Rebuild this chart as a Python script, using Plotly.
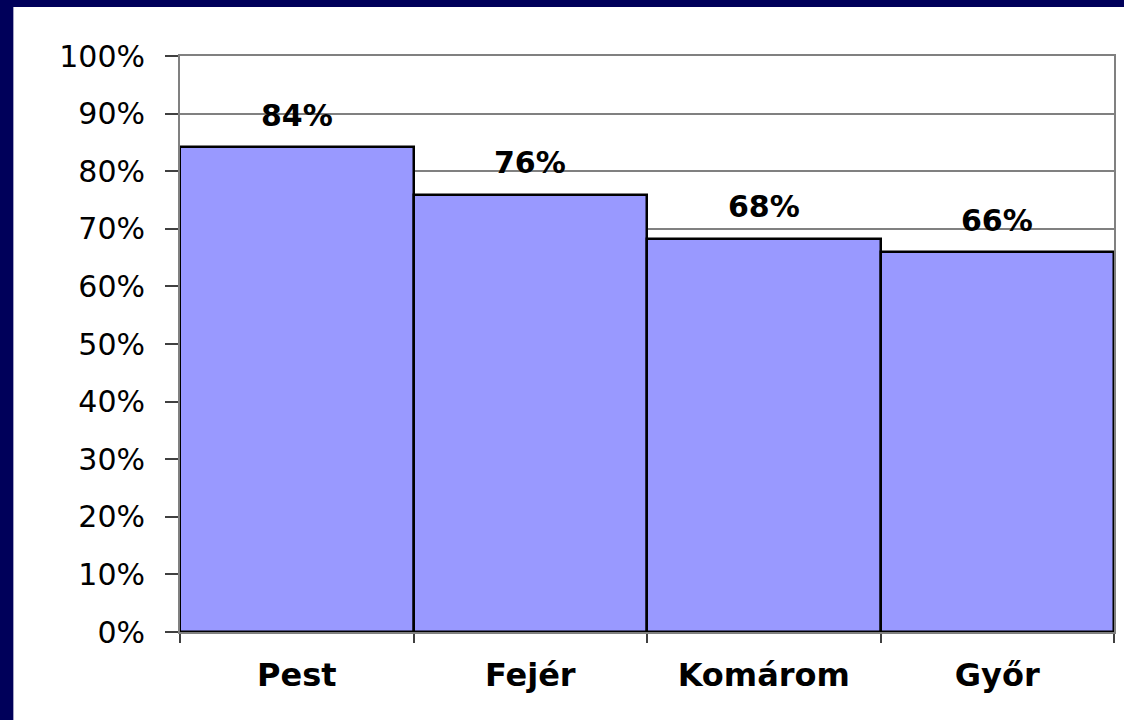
import plotly.graph_objects as go

categories = ["Pest", "Fejér", "Komárom", "Győr"]
values = [0.842, 0.759, 0.683, 0.659]
value_labels = ["84%", "76%", "68%", "66%"]

W, H = 1124, 720
L, R, T, B = 180, 8, 56, 88
pw, ph = W - L - R, H - T - B

def px_x(x):
    return (x - L) / pw

def px_y(y):
    return (H - B - y) / ph

FONT = "DejaVu Sans"
NAVY = "#00005A"

fig = go.Figure()
fig.add_trace(go.Bar(
    x=categories, y=values,
    marker=dict(color="#9999FF", line=dict(color="black", width=2.5)),
    hoverinfo="skip",
))

for c, v, t in zip(categories, values, value_labels):
    fig.add_annotation(x=c, y=v, text="<b>%s</b>" % t, showarrow=False,
                       yshift=32, yanchor="middle",
                       font=dict(family=FONT, size=30, color="black"))

# white slide panel over navy background
fig.add_shape(type="rect", xref="paper", yref="paper",
              x0=px_x(13), x1=px_x(W + 5), y0=px_y(H + 5), y1=px_y(7),
              fillcolor="white", line=dict(width=0), layer="below")

fig.update_layout(
    width=W, height=H,
    margin=dict(l=L, r=R, t=T, b=B),
    paper_bgcolor=NAVY,
    plot_bgcolor="white",
    bargap=0,
    showlegend=False,
    font=dict(family=FONT, color="black"),
)
fig.update_yaxes(
    range=[0, 1], dtick=0.1, tickformat=".0%",
    showgrid=True, gridcolor="#808080", gridwidth=1.5,
    showline=True, linecolor="#808080", linewidth=2, mirror=True,
    ticks="outside", ticklen=13, tickcolor="#404040", tickwidth=1.5,
    ticklabelstandoff=14,
    tickfont=dict(family=FONT, size=30, color="black"),
    zeroline=False,
)
fig.update_xaxes(
    showline=True, linecolor="#808080", linewidth=2, mirror=True,
    ticks="outside", tickson="boundaries", ticklen=9,
    tickcolor="#404040", tickwidth=1.5,
    ticklabelstandoff=14,
    tickfont=dict(family=FONT, size=32, color="black", weight="bold"),
)

fig.write_html(
    "out.html",
    config={"displayModeBar": False},
    post_script="document.body.style.margin='0';document.body.style.background='%s';" % NAVY,
)
